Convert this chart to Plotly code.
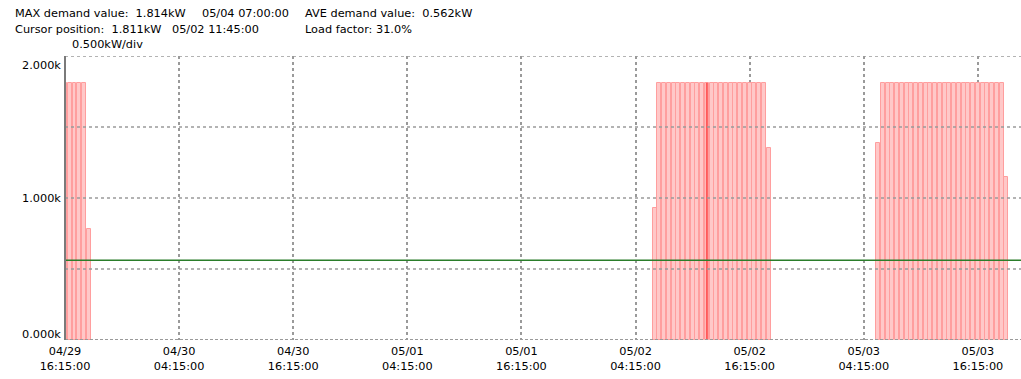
import plotly.graph_objects as go
from datetime import datetime, timedelta

# 30-minute demand readings (kW), one list per run of consecutive slots
run_starts = ["2024-04-29 16:15", "2024-05-02 06:15", "2024-05-03 05:45"]
run1_kw = [1.81, 1.81, 1.81, 1.81, 1.81, 0.78]
run2_kw = [0.93,
           1.81, 1.81, 1.81, 1.81, 1.81, 1.81, 1.81, 1.81, 1.81, 1.81,
           1.811, 1.81, 1.81, 1.81, 1.81, 1.81, 1.81, 1.81, 1.81, 1.81,
           1.81, 1.81, 1.81,
           1.35]
run3_kw = [1.39,
           1.81, 1.81, 1.81, 1.81, 1.81, 1.81, 1.81, 1.81, 1.81, 1.81,
           1.81, 1.81, 1.81, 1.81, 1.81, 1.81, 1.81, 1.81, 1.81, 1.81,
           1.81, 1.81, 1.81, 1.81, 1.81, 1.81,
           1.15]
runs_kw = [run1_kw, run2_kw, run3_kw]

ave_kw = 0.562
max_kw = 1.814
cursor_kw = 1.811
cursor_time = "2024-05-02 11:45"
load_factor = 31.0

x_tick_vals = ["2024-04-29 16:15", "2024-04-30 04:15", "2024-04-30 16:15",
               "2024-05-01 04:15", "2024-05-01 16:15", "2024-05-02 04:15",
               "2024-05-02 16:15", "2024-05-03 04:15", "2024-05-03 16:15"]
x_tick_text = ["04/29<br>16:15:00", "04/30<br>04:15:00", "04/30<br>16:15:00",
               "05/01<br>04:15:00", "05/01<br>16:15:00", "05/02<br>04:15:00",
               "05/02<br>16:15:00", "05/03<br>04:15:00", "05/03<br>16:15:00"]
y_label_vals = [0.0, 1.0, 2.0]
y_label_text = ["0.000k", "1.000k", "2.000k"]
y_grid_vals = [0.5, 1.0, 1.5, 2.0]
x_range = ["2024-04-29 16:15", "2024-05-03 20:47"]

FONT = "DejaVu Sans"
GRID = "#9a9a9a"
FILL = "#ffc8c8"
EDGE = "#ff9e9e"
CURSOR = "#ff5a5a"

fmt = "%Y-%m-%d %H:%M"
slot = timedelta(minutes=30)
times, values = [], []
for start, kw in zip(run_starts, runs_kw):
    t0 = datetime.strptime(start, fmt)
    for i, v in enumerate(kw):
        times.append(t0 + i * slot)
        values.append(v)

fig = go.Figure()
fig.add_trace(go.Bar(
    x=times, y=values,
    width=30 * 60 * 1000 * 0.82,
    marker=dict(color=FILL, line=dict(color=EDGE, width=1)),
    hoverinfo="skip",
))

shapes = []
# cursor marker on the selected slot
shapes.append(dict(type="line", xref="x", yref="y", x0=cursor_time, x1=cursor_time,
                   y0=0, y1=cursor_kw, line=dict(color=CURSOR, width=2), layer="above"))
# horizontal grid drawn over the bars
for gv in y_grid_vals:
    shapes.append(dict(type="line", xref="paper", yref="y", x0=0, x1=1, y0=gv, y1=gv,
                       line=dict(color=GRID, width=1.5, dash="3px,3px"), layer="above"))
# bottom baseline
shapes.append(dict(type="line", xref="paper", yref="y", x0=0, x1=1, y0=0, y1=0,
                   line=dict(color=GRID, width=2, dash="3px,2px"), layer="above"))
# average demand line
shapes.append(dict(type="line", xref="paper", yref="y", x0=0, x1=1, y0=ave_kw, y1=ave_kw,
                   line=dict(color="#2a7d2a", width=1.5), layer="above"))
# left frame
shapes.append(dict(type="line", xref="paper", yref="paper", x0=0, x1=0, y0=0, y1=1,
                   line=dict(color="#7a7a7a", width=2), layer="above"))

W, H = 1021, 379
ML, MR, MT, MB = 65, 0, 56, 39
pw, ph = W - ML - MR, H - MT - MB


def px(xp):
    return (xp - ML) / pw


def py(yp):
    return (H - MB - yp) / ph


annotations = []
header = [
    (f"MAX demand value:  {max_kw:.3f}kW", 13, 13),
    ("05/04 07:00:00", 200, 13),
    (f"AVE demand value:  {ave_kw:.3f}kW", 303, 13),
    (f"Cursor position:  {cursor_kw:.3f}kW", 13, 29),
    ("05/02 11:45:00", 170, 29),
    (f"Load factor: {load_factor:.1f}%", 303, 29),
    ("0.500kW/div", 70, 45),
]
for txt, xp, yp in header:
    annotations.append(dict(text=txt, xref="paper", yref="paper", x=px(xp), y=py(yp),
                            xanchor="left", yanchor="middle", showarrow=False,
                            font=dict(family=FONT, size=11.3, color="#000000")))

y_shift = {0.0: 6, 1.0: 0, 2.0: -9}
for v, txt in zip(y_label_vals, y_label_text):
    annotations.append(dict(text=txt, xref="paper", yref="y", x=px(63), y=v,
                            xanchor="right", yanchor="middle", yshift=y_shift[v],
                            showarrow=False,
                            font=dict(family=FONT, size=11.3, color="#000000")))

fig.update_layout(
    width=W, height=H,
    margin=dict(l=ML, r=MR, t=MT, b=MB, pad=0),
    paper_bgcolor="#ffffff", plot_bgcolor="#ffffff",
    showlegend=False,
    bargap=0,
    shapes=shapes,
    annotations=annotations,
    font=dict(family=FONT, size=11, color="#000000"),
)
fig.update_xaxes(
    type="date", range=x_range,
    tickvals=x_tick_vals, ticktext=x_tick_text,
    ticks="", showline=False, zeroline=False, ticklabelstandoff=3,
    showgrid=True, gridcolor=GRID, gridwidth=1.5, griddash="3px,3px",
    tickfont=dict(family=FONT, size=11.3, color="#000000"),
)
fig.update_yaxes(
    range=[0, 2], showticklabels=False, ticks="", showgrid=False,
    zeroline=False, showline=False,
)

fig.write_html("out.html")
